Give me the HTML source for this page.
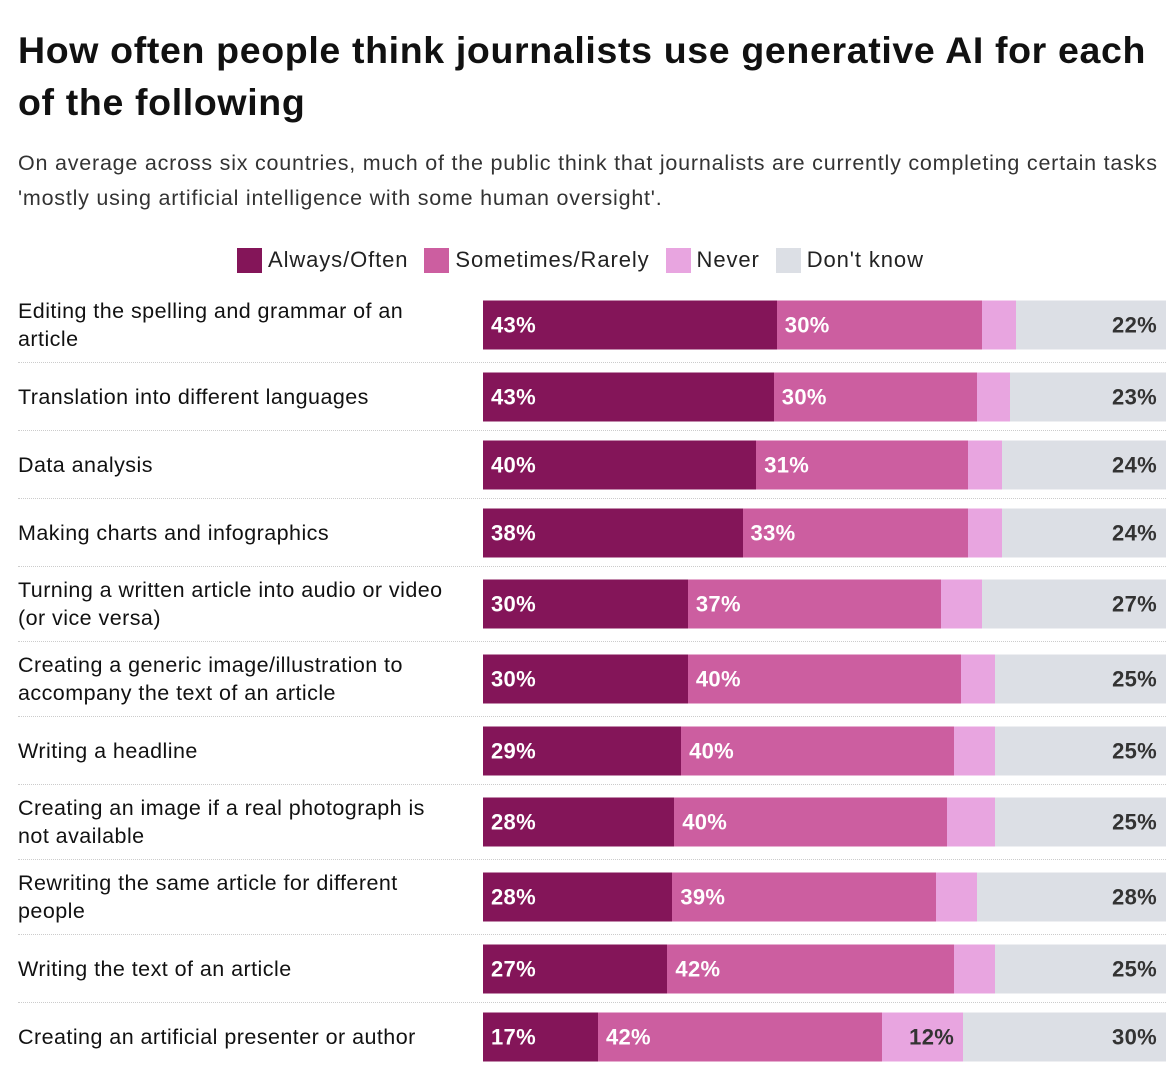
<!DOCTYPE html>
<html><head><meta charset="utf-8">
<style>
body{margin:0;width:1176px;height:1082px;background:#fff;font-family:"Liberation Sans",sans-serif;color:#111;overflow:hidden;position:relative}
#title{position:absolute;left:18px;top:24px;width:1160px;font-size:37.5px;font-weight:bold;line-height:52px;margin:0;letter-spacing:0.65px;white-space:nowrap}
#sub{position:absolute;left:18px;top:146px;width:1160px;font-size:21.5px;line-height:35px;color:#333;letter-spacing:0.78px;white-space:nowrap}
#legend{position:absolute;left:237px;top:246px;display:flex;font-size:22px;line-height:28px;color:#222;letter-spacing:0.9px}
.li{display:flex;align-items:center;margin-right:16px}
.sw{width:25px;height:25px;margin-right:6px}
#chart{position:absolute;left:0;top:288px;width:1176px}
.row{position:relative;border-bottom:1px dotted #ccc;margin-left:18px;width:1148px}
.lab{position:absolute;left:0;width:460px;font-size:21.5px;line-height:28px;top:50%;transform:translateY(-50%);white-space:pre;letter-spacing:0.45px}
.bar{position:absolute;left:465px;width:683px;height:49px;top:50%;transform:translateY(-50%)}
.seg{position:absolute;top:0;height:49px;font-weight:bold;font-size:22px;line-height:49px;color:#fff;box-sizing:border-box;letter-spacing:0.3px}
</style></head><body>
<h1 id="title">How often people think journalists use generative AI for each<br>of the following</h1>
<div id="sub">On average across six countries, much of the public think that journalists are currently completing certain tasks<br>'mostly using artificial intelligence with some human oversight'.</div>
<div id="legend">
<div class="li"><div class="sw" style="background:#841559"></div>Always/Often</div>
<div class="li"><div class="sw" style="background:#cc5ea0"></div>Sometimes/Rarely</div>
<div class="li"><div class="sw" style="background:#e8a5e0"></div>Never</div>
<div class="li"><div class="sw" style="background:#dcdfe5"></div>Don't know</div>
</div>
<div id="chart"></div>
<script>
const categories=["Editing the spelling and grammar of an\narticle","Translation into different languages","Data analysis","Making charts and infographics","Turning a written article into audio or video\n(or vice versa)","Creating a generic image/illustration to\naccompany the text of an article","Writing a headline","Creating an image if a real photograph is\nnot available","Rewriting the same article for different\npeople","Writing the text of an article","Creating an artificial presenter or author"];
const alwaysOften=[43,43,40,38,30,30,29,28,28,27,17];
const sometimesRarely=[30,30,31,33,37,40,40,40,39,42,42];
const never=[5,5,5,5,6,5,6,7,6,6,12];
const dontKnow=[22,23,24,24,27,25,25,25,28,25,30];
const series=[alwaysOften,sometimesRarely,never,dontKnow];
const colors=["#841559","#cc5ea0","#e8a5e0","#dcdfe5"];
const names=["always-often","sometimes-rarely","never","dont-know"];
const W=683;
const chart=document.getElementById('chart');
categories.forEach((c,i)=>{
  const two=c.indexOf('\n')>=0;
  const row=document.createElement('div');
  row.className='row';
  
  
  row.style.height=(two?74:67)+'px';
  if(i===categories.length-1)row.style.borderBottom='none';
  const lab=document.createElement('div');
  lab.className='lab';lab.textContent=c;
  
  
  row.appendChild(lab);
  const bar=document.createElement('div');bar.className='bar';
  
  
  const total=series.reduce((s,a)=>s+a[i],0);
  let x=0;
  series.forEach((s,k)=>{
    const w=s[i]/total*W;
    const seg=document.createElement('div');seg.className='seg';
    
    
    seg.style.left=x+'px';seg.style.width=(k===3?W-x:w)+'px';seg.style.background=colors[k];
    if(k<2){seg.textContent=s[i]+'%';seg.style.paddingLeft='8px';}
    else if(k===3||s[i]>=10){seg.textContent=s[i]+'%';seg.style.textAlign='right';seg.style.paddingRight='9px';seg.style.color='#333';}
    bar.appendChild(seg);x+=w;
  });
  row.appendChild(bar);
  chart.appendChild(row);
});
</script>
</body></html>
